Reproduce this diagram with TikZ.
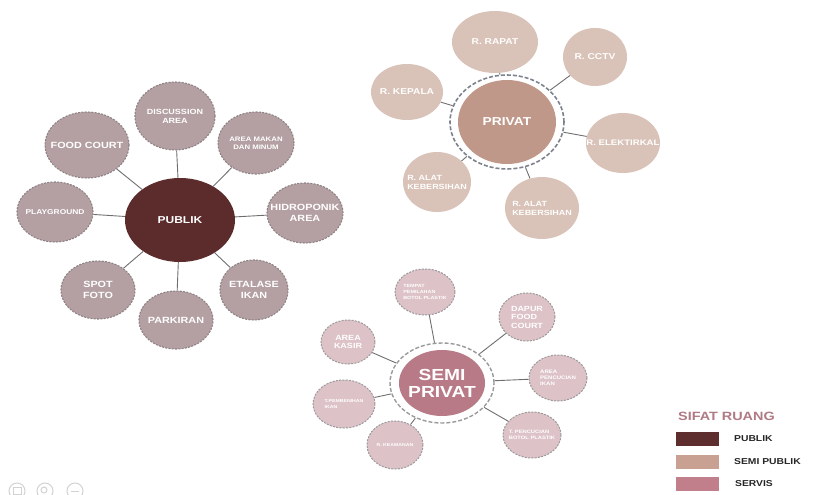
\documentclass[tikz,border=0pt]{standalone}
\usepackage{fontspec}
\usetikzlibrary{shapes.geometric}
\newfontfamily\wf{Liberation Sans}[FakeStretch=1.2]
\definecolor{pubdark}{HTML}{5C2B2B}
\definecolor{pubfill}{HTML}{B4A0A2}
\definecolor{publine}{HTML}{8E8284}
\definecolor{privfill}{HTML}{D9C2B7}
\definecolor{privcen}{HTML}{C09889}
\definecolor{ringgray}{HTML}{7D838C}
\definecolor{semifill}{HTML}{DDC2C7}
\definecolor{semicen}{HTML}{B77A86}
\definecolor{semiline}{HTML}{9A9A9A}
\definecolor{conncol}{HTML}{6E6E6E}
\definecolor{legtitle}{HTML}{B07A85}
\definecolor{legpub}{HTML}{5E2E2E}
\definecolor{legsemi}{HTML}{C9A193}
\definecolor{legserv}{HTML}{C07F8A}
\definecolor{icongray}{HTML}{D2D2D2}
\newcommand{\fsz}[2]{\fontsize{#1}{#2}\selectfont}
\tikzset{
  sz/.style 2 args={minimum width=#1, minimum height=#2},
  blob/.style={ellipse, inner sep=0pt},
  lab/.style={text=white, align=center, inner sep=0pt},
  labl/.style={text=white, align=left, inner sep=0pt},
  pubsat/.style={blob, fill=pubfill, draw=publine, line width=1.1pt, dash pattern=on 2pt off 1.3pt},
  privsat/.style={blob, fill=privfill},
  semisat/.style={blob, fill=semifill, draw=semiline, line width=1pt, dash pattern=on 2pt off 1.3pt},
  ring/.style={ellipse, inner sep=0pt, draw=ringgray, line width=1.6pt, dash pattern=on 4pt off 2pt},
  conn/.style={draw=conncol, line width=0.9pt},
  swatch/.style={rectangle, inner sep=0pt, minimum width=43pt, minimum height=14pt},
  legtxt/.style={anchor=west, inner sep=0pt, font=\wf\bfseries\fsz{8.6}{10}, text=black!85},
  icon/.style={circle, draw=icongray, line width=1pt, minimum size=16pt, inner sep=0pt}
}
\begin{document}
\begin{tikzpicture}[x=1pt,y=-1pt]
\useasboundingbox (0,0) rectangle (815,495);
% ---------------- PUBLIK ----------------
\node[blob, fill=pubdark, sz={110pt}{84pt}, label={[lab, font=\wf\bfseries\fsz{10}{12}]center:PUBLIK}] (pub) at (180,220) {};
\node[pubsat, sz={80pt}{68pt}, label={[lab, font=\wf\bfseries\fsz{7.5}{9}]center:{DISCUSSION\\AREA}}] (disc) at (175,116) {};
\node[pubsat, sz={84pt}{66pt}, label={[lab, font=\wf\bfseries\fsz{9}{11}]center:{FOOD COURT}}] (food) at (87,145) {};
\node[pubsat, sz={76pt}{62pt}, label={[lab, font=\wf\bfseries\fsz{6.5}{8}]center:{AREA MAKAN\\DAN MINUM}}] (makan) at (256,143) {};
\node[pubsat, sz={76pt}{60pt}, label={[lab, font=\wf\bfseries\fsz{7}{8.5}]center:PLAYGROUND}] (play) at (55,212) {};
\node[pubsat, sz={76pt}{60pt}, label={[lab, font=\wf\bfseries\fsz{9}{10.5}]center:{HIDROPONIK\\AREA}}] (hidro) at (305,213) {};
\node[pubsat, sz={74pt}{58pt}, label={[lab, font=\wf\bfseries\fsz{9}{10.5}]center:{SPOT\\FOTO}}] (spot) at (98,290) {};
\node[pubsat, sz={74pt}{58pt}, label={[lab, font=\wf\bfseries\fsz{9}{10.5}]center:PARKIRAN}] (park) at (176,320) {};
\node[pubsat, sz={68pt}{60pt}, label={[lab, font=\wf\bfseries\fsz{9}{10.5}]center:{ETALASE\\IKAN}}] (etal) at (254,290) {};
\foreach \s in {disc,food,makan,play,hidro,spot,park,etal} \draw[conn] (pub) -- (\s);
% ---------------- PRIVAT ----------------
\node[ring, sz={114pt}{94pt}] (privring) at (507,122) {};
\node[blob, fill=privcen, sz={98pt}{84pt}, label={[lab, font=\wf\bfseries\fsz{11.5}{13}]center:PRIVAT}] (priv) at (507,122) {};
\node[privsat, sz={86pt}{62pt}, label={[lab, font=\wf\bfseries\fsz{8.5}{10}]center:{R. RAPAT}}] (rapat) at (495,42) {};
\node[privsat, sz={64pt}{58pt}, label={[lab, font=\wf\bfseries\fsz{8.5}{10}]center:{R. CCTV}}] (cctv) at (595,57) {};
\node[privsat, sz={72pt}{56pt}, label={[lab, font=\wf\bfseries\fsz{8.5}{10}]center:{R. KEPALA}}] (kepala) at (407,92) {};
\node[privsat, sz={74pt}{60pt}, label={[lab, font=\wf\bfseries\fsz{8}{9.5}]center:{R. ELEKTIRKAL}}] (elek) at (623,143) {};
\node[privsat, sz={68pt}{60pt}, label={[labl, font=\wf\bfseries\fsz{7.5}{9}]center:{R. ALAT\\KEBERSIHAN}}] (alat1) at (437,182) {};
\node[privsat, sz={74pt}{62pt}, label={[labl, font=\wf\bfseries\fsz{7.5}{9}]center:{R. ALAT\\KEBERSIHAN}}] (alat2) at (542,208) {};
\foreach \s in {rapat,cctv,kepala,elek,alat1,alat2} \draw[conn] (privring) -- (\s);
% ---------------- SEMI PRIVAT ----------------
\node[ring, draw=semiline, line width=1.4pt, sz={104pt}{80pt}] (semiring) at (442,383) {};
\node[blob, fill=semicen, sz={86pt}{66pt}, label={[lab, font=\wf\bfseries\fsz{16}{17}]center:{SEMI\\PRIVAT}}] (semi) at (442,383) {};
\node[semisat, sz={60pt}{46pt}, label={[labl, font=\wf\bfseries\fsz{4.5}{5.6}]center:{TEMPAT\\PEMILAHAN\\BOTOL PLASTIK}}] (tempat) at (425,292) {};
\node[semisat, sz={56pt}{48pt}, label={[labl, font=\wf\bfseries\fsz{7.5}{8.5}]center:{DAPUR\\FOOD\\COURT}}] (dapur) at (527,317) {};
\node[semisat, sz={54pt}{44pt}, label={[lab, font=\wf\bfseries\fsz{7.5}{8.5}]center:{AREA\\KASIR}}] (kasir) at (348,342) {};
\node[semisat, sz={58pt}{46pt}, label={[labl, font=\wf\bfseries\fsz{5}{6}]center:{AREA\\PENCUCIAN\\IKAN}}] (cuci) at (558,378) {};
\node[semisat, sz={62pt}{48pt}, label={[labl, font=\wf\bfseries\fsz{4.3}{5.3}]center:{T.PEMBENIHAN\\IKAN}}] (benih) at (344,404) {};
\node[semisat, sz={56pt}{48pt}, label={[lab, font=\wf\bfseries\fsz{4.3}{5.3}]center:{R. KEAMANAN}}] (aman) at (395,445) {};
\node[semisat, sz={58pt}{46pt}, label={[labl, font=\wf\bfseries\fsz{4.8}{5.8}]center:{T. PENCUCIAN\\BOTOL PLASTIK}}] (botol) at (532,435) {};
\foreach \s in {tempat,dapur,kasir,cuci,benih,aman,botol} \draw[conn] (semiring) -- (\s);
% ---------------- LEGEND ----------------
\node[anchor=west, inner sep=0pt, font=\wf\bfseries\fsz{12}{14}, text=legtitle] (legt) at (678,416) {SIFAT RUANG};
\node[swatch, fill=legpub] (sw1) at (697.5,439) {};
\node[swatch, fill=legsemi] (sw2) at (697.5,461.5) {};
\node[swatch, fill=legserv] (sw3) at (697.5,484) {};
\node[legtxt] (l1) at (734,439) {PUBLIK};
\node[legtxt] (l2) at (734,461.5) {SEMI PUBLIK};
\node[legtxt] (l3) at (735,484) {SERVIS};
% ---------------- viewer icons ----------------
\node[icon] (ic1) at (17,491) {};
\node[icon] (ic2) at (45,491) {};
\node[icon] (ic3) at (75,491) {};
\draw[icongray, line width=1pt] ([xshift=-4pt]ic3.center) -- ([xshift=4pt]ic3.center);
\draw[icongray, line width=1pt] ([xshift=-1pt,yshift=1pt]ic2.center) circle (3pt);
\draw[icongray, line width=0.9pt] ([xshift=-4pt,yshift=-3pt]ic1.center) rectangle ([xshift=4pt,yshift=4pt]ic1.center);
\end{tikzpicture}
\end{document}
